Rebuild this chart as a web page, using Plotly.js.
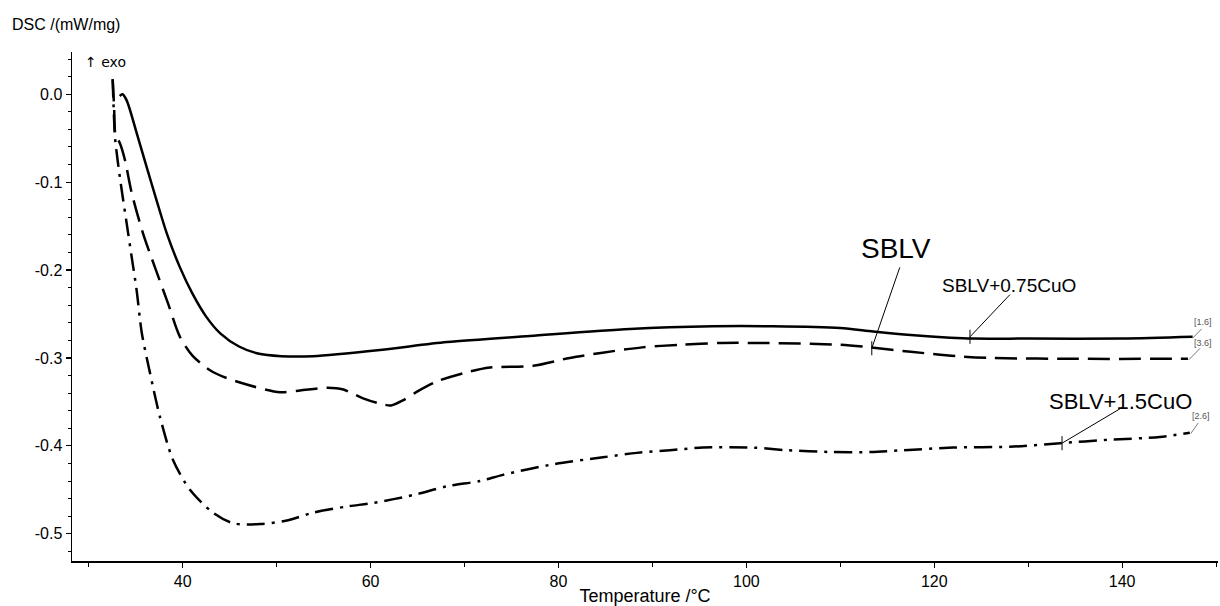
<!DOCTYPE html>
<html>
<head>
<meta charset="utf-8">
<script src="https://cdn.plot.ly/plotly-3.0.1.min.js"></script>
<style>html,body{margin:0;padding:0;background:#fff;}#chart{width:1220px;height:606px;}</style>
</head>
<body>
<div id="chart"></div>
<script>
// Temperature (°C) and DSC signal (mW/mg)
const sblvT = [33.3, 33.6, 34.04, 35.10, 36.17, 37.23, 38.30, 39.71, 41.0, 42.5, 44.0, 46.0, 48.0, 50.5, 53.87, 61.0, 68.13, 76.96, 87.6, 96.44, 102.8, 109.97, 113.5, 117.5, 121.7, 124.1, 130, 140, 147.5];
const sblvV = [-0.002, 0.000, -0.007, -0.044, -0.083, -0.121, -0.158, -0.197, -0.226, -0.253, -0.272, -0.287, -0.295, -0.298, -0.298, -0.291, -0.282, -0.275, -0.267, -0.264, -0.264, -0.266, -0.270, -0.274, -0.277, -0.278, -0.278, -0.278, -0.276];

const cu075T = [32.55, 32.7, 32.85, 33.33, 33.86, 34.57, 35.77, 37.05, 38.44, 39.71, 41.09, 43.22, 46.10, 50.36, 52.5, 55.4, 57.1, 59.2, 61.0, 62.2, 63.5, 65.0, 67.0, 70.0, 72.7, 77.3, 81.2, 84.7, 88.9, 92.9, 97.4, 101.4, 110.0, 113.2, 117.5, 122.4, 125.9, 135, 147.0];
const cu075V = [0.017, -0.014, -0.046, -0.056, -0.075, -0.112, -0.158, -0.197, -0.238, -0.276, -0.298, -0.316, -0.328, -0.339, -0.337, -0.334, -0.336, -0.346, -0.352, -0.354, -0.348, -0.338, -0.327, -0.317, -0.311, -0.309, -0.300, -0.294, -0.288, -0.285, -0.283, -0.283, -0.285, -0.288, -0.293, -0.298, -0.300, -0.301, -0.301];

const cu15T = [32.55, 32.8, 33.11, 33.51, 34.04, 34.57, 35.10, 35.64, 36.52, 37.58, 38.97, 40.78, 43.22, 45.35, 48.23, 51.10, 53.87, 57.49, 60.26, 64.52, 68.13, 71.64, 74.09, 79.41, 84.73, 88.35, 91.86, 95.38, 100.7, 104.3, 108.9, 113.2, 116.7, 122.0, 128.05, 133.4, 138.7, 144.0, 147.2];
const cu15V = [0.017, -0.049, -0.078, -0.109, -0.147, -0.185, -0.223, -0.271, -0.317, -0.367, -0.416, -0.450, -0.476, -0.488, -0.489, -0.485, -0.476, -0.469, -0.465, -0.456, -0.446, -0.440, -0.433, -0.421, -0.413, -0.408, -0.405, -0.402, -0.402, -0.405, -0.407, -0.407, -0.405, -0.402, -0.401, -0.397, -0.393, -0.390, -0.385];

const seriesNames = ["SBLV", "SBLV+0.75CuO", "SBLV+1.5CuO"];
const xTickVals = [40, 60, 80, 100, 120, 140];
const xTickText = ["40", "60", "80", "100", "120", "140"];
const yTickVals = [0.0, -0.1, -0.2, -0.3, -0.4, -0.5];
const yTickText = ["0.0", "-0.1", "-0.2", "-0.3", "-0.4", "-0.5"];

const FONT = "Liberation Sans, DejaVu Sans, Arial, sans-serif";
const traces = [
  {x: sblvT, y: sblvV, name: seriesNames[0], mode: "lines",
   line: {color: "#000", width: 2.5, shape: "spline", smoothing: 0.8}},
  {x: cu075T, y: cu075V, name: seriesNames[1], mode: "lines",
   line: {color: "#000", width: 2.5, dash: "22px,9px", shape: "spline", smoothing: 0.8}},
  {x: cu15T, y: cu15V, name: seriesNames[2], mode: "lines",
   line: {color: "#000", width: 2.5, dash: "18px,7px,3px,7px", shape: "spline", smoothing: 0.8}}
];

const lineK = {color: "#000", width: 1};
const lineG = {color: "#555", width: 0.8};
const shapes = [
  // leader lines and markers
  {type: "line", xref: "x", yref: "y", x0: 116.33, y0: -0.197, x1: 113.35, y1: -0.289, line: lineK},
  {type: "line", xref: "x", yref: "y", x0: 113.35, y0: -0.281, x1: 113.35, y1: -0.297, line: lineK},
  {type: "line", xref: "x", yref: "y", x0: 128.05, y0: -0.228, x1: 123.8, y1: -0.276, line: lineK},
  {type: "line", xref: "x", yref: "y", x0: 123.8, y0: -0.268, x1: 123.8, y1: -0.284, line: lineK},
  {type: "line", xref: "x", yref: "y", x0: 140.06, y0: -0.356, x1: 133.6, y1: -0.397, line: lineK},
  {type: "line", xref: "x", yref: "y", x0: 133.6, y0: -0.389, x1: 133.6, y1: -0.405, line: lineK},
  {type: "line", xref: "x", yref: "y", x0: 147.5, y0: -0.2775, x1: 148.46, y1: -0.267, line: lineG},
  {type: "line", xref: "x", yref: "y", x0: 147.1, y0: -0.302, x1: 148.3, y1: -0.289, line: lineG},
  {type: "line", xref: "x", yref: "y", x0: 147.3, y0: -0.386, x1: 148.1, y1: -0.374, line: lineG}
];

const annotations = [
  {text: "DSC /(mW/mg)", xref: "paper", yref: "paper", x: -0.054, y: 1.055, xanchor: "left", yanchor: "middle", showarrow: false, font: {family: FONT, size: 16, color: "#000"}},
  {text: "↑ exo", xref: "paper", yref: "paper", x: 0.0288, y: 0.980, xanchor: "center", yanchor: "middle", showarrow: false, font: {family: "DejaVu Sans, Liberation Sans, sans-serif", size: 14, color: "#000"}},
  {text: seriesNames[0], xref: "x", yref: "y", x: 115.9, y: -0.175, xanchor: "center", yanchor: "middle", showarrow: false, font: {family: FONT, size: 28, color: "#000"}},
  {text: seriesNames[1], xref: "x", yref: "y", x: 127.95, y: -0.218, xanchor: "center", yanchor: "middle", showarrow: false, font: {family: FONT, size: 19, color: "#000"}},
  {text: seriesNames[2], xref: "x", yref: "y", x: 139.8, y: -0.349, xanchor: "center", yanchor: "middle", showarrow: false, font: {family: FONT, size: 22, color: "#000"}},
  {text: "[1.6]", xref: "x", yref: "y", x: 148.6, y: -0.259, xanchor: "center", yanchor: "middle", showarrow: false, font: {family: FONT, size: 9, color: "#555"}},
  {text: "[3.6]", xref: "x", yref: "y", x: 148.6, y: -0.283, xanchor: "center", yanchor: "middle", showarrow: false, font: {family: FONT, size: 9, color: "#555"}},
  {text: "[2.6]", xref: "x", yref: "y", x: 148.4, y: -0.366, xanchor: "center", yanchor: "middle", showarrow: false, font: {family: FONT, size: 9, color: "#555"}}
];

const layout = {
  width: 1220, height: 606,
  margin: {l: 72, r: 2, t: 52, b: 45, pad: 0},
  paper_bgcolor: "#fff", plot_bgcolor: "#fff",
  showlegend: false,
  font: {family: FONT, size: 16, color: "#000"},
  xaxis: {
    range: [28.22, 150.2], showgrid: false, zeroline: false,
    showline: true, linecolor: "#000", linewidth: 1.5,
    tickmode: "array", tickvals: xTickVals, ticktext: xTickText,
    ticks: "outside", ticklen: 5, tickwidth: 1.2, tickcolor: "#000",
    minor: {dtick: 10, tick0: 0, ticks: "outside", ticklen: 4, tickwidth: 1, tickcolor: "#000", showgrid: false},
    tickfont: {family: FONT, size: 16, color: "#000"},
    title: {text: "Temperature /°C", font: {family: FONT, size: 18, color: "#000"}, standoff: 0}
  },
  yaxis: {
    range: [-0.531, 0.048], showgrid: false, zeroline: false,
    showline: true, linecolor: "#000", linewidth: 1.5,
    tickmode: "array", tickvals: yTickVals, ticktext: yTickText,
    ticks: "outside", ticklen: 5, tickwidth: 1.2, tickcolor: "#000",
    minor: {dtick: 0.02, tick0: 0, ticks: "outside", ticklen: 3, tickwidth: 1, tickcolor: "#000", showgrid: false},
    tickfont: {family: FONT, size: 16, color: "#000"}
  },
  shapes: shapes,
  annotations: annotations
};

Plotly.newPlot("chart", traces, layout, {displayModeBar: false, staticPlot: true});
</script>
</body>
</html>
